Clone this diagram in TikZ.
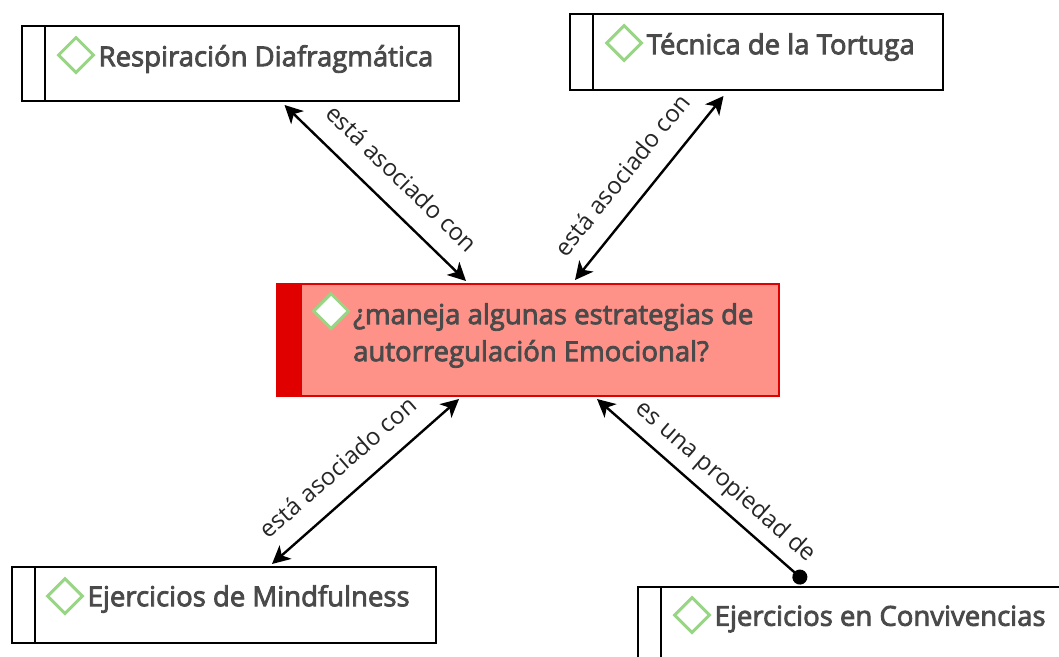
\documentclass[tikz,border=0pt]{standalone}
\usepackage{fontspec}
\setmainfont{Open Sans}
\newfontfamily\topicfont[FakeBold=3]{Open Sans}
\usetikzlibrary{shapes,arrows.meta,positioning}
\definecolor{topicgray}{HTML}{4A4A4A}
\definecolor{gemgreen}{HTML}{98D585}
\definecolor{mainred}{HTML}{E00000}
\definecolor{mainfill}{HTML}{FF9288}
\tikzstyle{topic} = [rectangle, draw=black, line width=2pt, fill=white, inner sep=0pt, outer sep=0pt, path picture={\draw [line width=2pt] ([xshift=23pt]path picture bounding box.north west) -- ([xshift=23pt]path picture bounding box.south west);}]
\tikzstyle{question} = [rectangle, draw=mainred, line width=2pt, fill=mainfill, inner sep=0pt, outer sep=0pt, path picture={\fill [mainred] (path picture bounding box.north west) rectangle ([xshift=25pt]path picture bounding box.south west);}]
\tikzstyle{gem} = [diamond, draw=gemgreen, line width=3pt, fill=white, minimum width=36pt, minimum height=36pt, inner sep=0pt]
\tikzstyle{topictext} = [text=topicgray, inner sep=0pt, font=\topicfont\fontsize{27.5}{37}\selectfont, align=left]
\tikzstyle{arrow} = [line width=2.4pt,>={Stealth[length=18pt,width=18pt,inset=5pt]}]
\tikzstyle{relation} = [sloped, inner sep=5pt, font=\fontsize{24}{28}\selectfont, text=black!85]
\begin{document}
\begin{tikzpicture}[x=1pt,y=-1pt]
        \useasboundingbox (0,0) rectangle (1059,656);
        \node (resp) [topic, minimum width=437pt, minimum height=75pt] at (240.5,63.5) {};
        \node (tort) [topic, minimum width=373pt, minimum height=76pt] at (756.5,52) {};
        \node (main) [question, minimum width=502pt, minimum height=112pt] at (528,340) {};
        \node (mind) [topic, minimum width=424pt, minimum height=76pt] at (224,605) {};
        \node (conv) [topic, minimum width=440pt, minimum height=90pt] at (858,632) {};
        \node (respgem) [gem] at (76,55) {};
        \node (tortgem) [gem] at (624,43) {};
        \node (maingem) [gem] at (331,311) {};
        \node (mindgem) [gem] at (65,596) {};
        \node (convgem) [gem] at (692,615) {};
        \node (resptxt) [topictext, right=3pt of respgem, yshift=-4pt] {Respiración Diafragmática};
        \node (torttxt) [topictext, right=3pt of tortgem, yshift=-4pt] {Técnica de la Tortuga};
        \node (maintxt) [topictext, anchor=north west] at (353,303) {¿maneja algunas estrategias de\\autorregulación Emocional?};
        \node (mindtxt) [topictext, right=3pt of mindgem, yshift=-3pt] {Ejercicios de Mindfulness};
        \node (convtxt) [topictext, right=3pt of convgem, yshift=-4pt] {Ejercicios en Convivencias};
        \draw [arrow,<->] ([xshift=44pt,yshift=-4pt]resp.south) -- node[relation,above=14pt,pos=.535] {está asociado con} ([xshift=-62pt,yshift=3pt]main.north);
        \draw [arrow,<->] ([xshift=-33pt,yshift=-6pt]tort.south) -- node[relation,above=14pt,pos=.53] {está asociado con} ([xshift=47pt,yshift=4pt]main.north);
        \draw [arrow,<->] ([xshift=-69pt,yshift=-3pt]main.south) -- node[relation,above=14pt,pos=.545] {está asociado con} ([xshift=48pt,yshift=3pt]mind.north);
        \draw [arrow,{Stealth[length=18pt,width=18pt,inset=5pt]}-{Circle[length=15pt]}] ([xshift=69pt,yshift=-3pt]main.south) -- node[relation,above=4pt,pos=.545] {es una propiedad de} ([xshift=-52.5pt,yshift=5pt]conv.north);
        \end{tikzpicture}
\end{document}
